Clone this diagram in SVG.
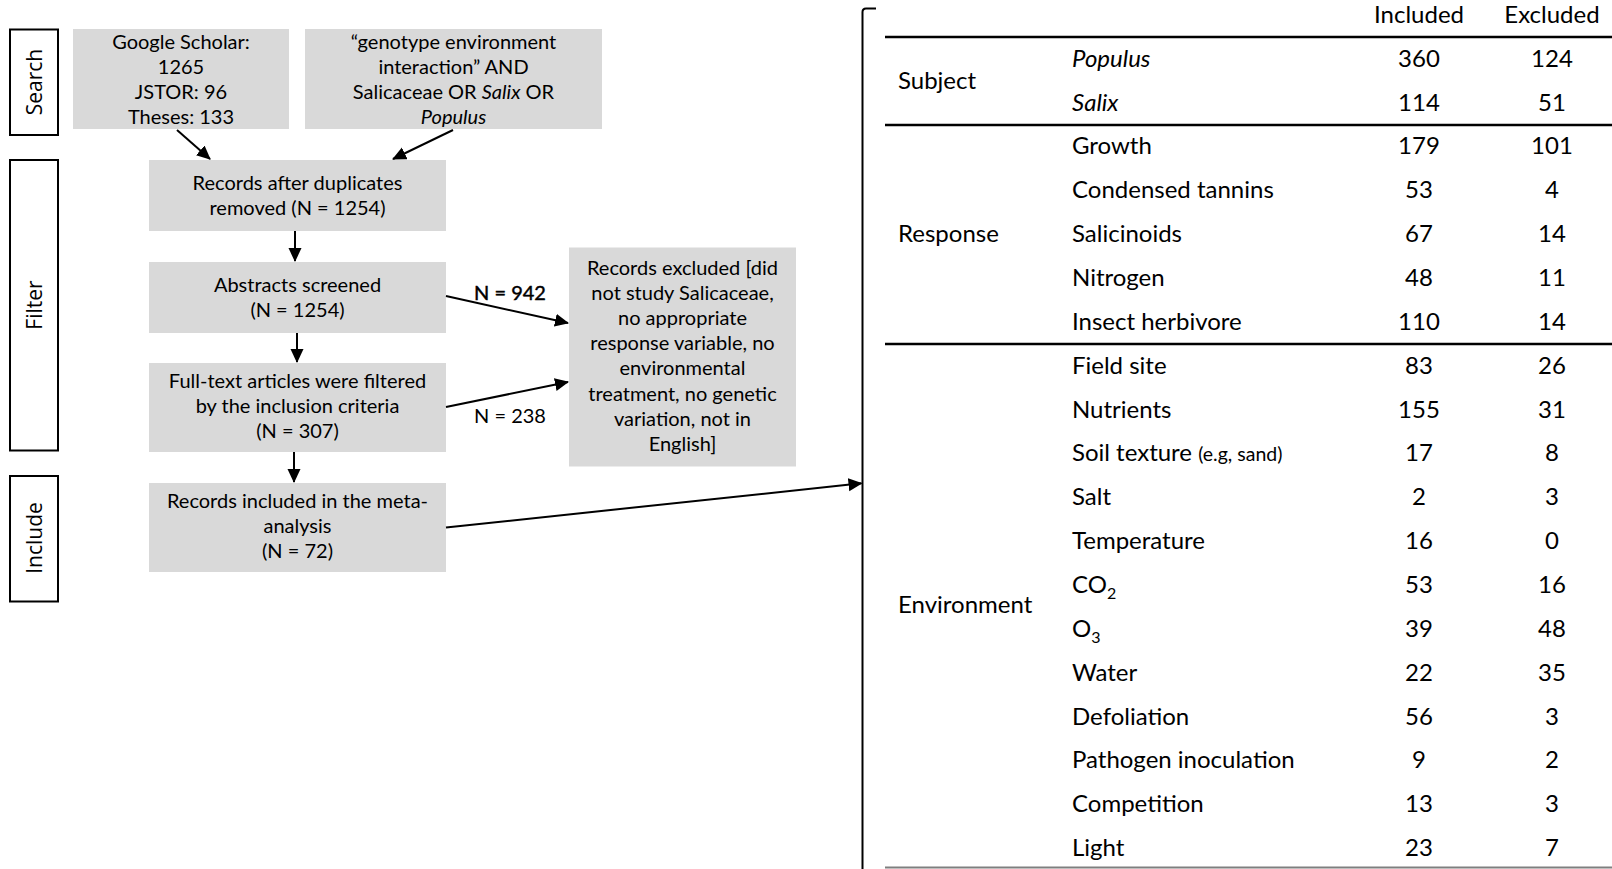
<svg xmlns="http://www.w3.org/2000/svg" width="1612" height="869" viewBox="0 0 1612 869">
<style>
.box{fill:#d9d9d9;stroke:none}
.lbl{fill:#fff;stroke:#000;stroke-width:2}
.t{font-family:Lato,"Liberation Sans",sans-serif;font-size:20px;fill:#000;text-anchor:middle}
.side{font-family:"Open Sans","Liberation Sans",sans-serif;font-size:21px;fill:#000;text-anchor:middle}
.tb{font-family:Lato,"Liberation Sans",sans-serif;font-size:24px;fill:#000}
.c{text-anchor:middle}
.i{font-style:italic}
.con{stroke:#000;stroke-width:2;fill:none}
.rule{stroke:#000;stroke-width:2.5}
</style>
<defs>
<marker id="arr" markerUnits="userSpaceOnUse" markerWidth="14" markerHeight="14" refX="13" refY="6.5" orient="auto">
<path d="M0,0 L14,6.5 L0,13 z" fill="#000"/>
</marker>
</defs>

<g id="stage-search">
<rect class="lbl" x="10" y="29.5" width="48" height="105.5"/>
<text class="side" transform="translate(42,82) rotate(-90)">Search</text>
</g>
<g id="stage-filter">
<rect class="lbl" x="10" y="160" width="48" height="290.5"/>
<text class="side" transform="translate(42,305) rotate(-90)">Filter</text>
</g>
<g id="stage-include">
<rect class="lbl" x="10" y="476" width="48" height="125.5"/>
<text class="side" transform="translate(42,538) rotate(-90)">Include</text>
</g>

<g id="node-sources">
<rect class="box" x="73" y="29" width="216" height="100"/>
<text class="t" x="181" y="49">Google Scholar:</text>
<text class="t" x="181" y="74">1265</text>
<text class="t" x="181" y="99">JSTOR: 96</text>
<text class="t" x="181" y="124">Theses: 133</text>
</g>
<g id="node-query">
<rect class="box" x="305" y="29" width="297" height="100"/>
<text class="t" x="453.5" y="49">“genotype environment</text>
<text class="t" x="453.5" y="74">interaction” AND</text>
<text class="t" x="453.5" y="99">Salicaceae OR <tspan class="i">Salix</tspan> OR</text>
<text class="t i" x="453.5" y="124">Populus</text>
</g>
<g id="node-dedup">
<rect class="box" x="149" y="160" width="297" height="71"/>
<text class="t" x="297.5" y="189.5">Records after duplicates</text>
<text class="t" x="297.5" y="214.5">removed (N = 1254)</text>
</g>
<g id="node-abstracts">
<rect class="box" x="149" y="262" width="297" height="71"/>
<text class="t" x="297.5" y="291.5">Abstracts screened</text>
<text class="t" x="297.5" y="316.5">(N = 1254)</text>
</g>
<g id="node-fulltext">
<rect class="box" x="149" y="363" width="297" height="89"/>
<text class="t" x="297.5" y="388">Full-text articles were filtered</text>
<text class="t" x="297.5" y="413">by the inclusion criteria</text>
<text class="t" x="297.5" y="438">(N = 307)</text>
</g>
<g id="node-included">
<rect class="box" x="149" y="483" width="297" height="89"/>
<text class="t" x="297.5" y="508">Records included in the meta-</text>
<text class="t" x="297.5" y="533">analysis</text>
<text class="t" x="297.5" y="558">(N = 72)</text>
</g>
<g id="node-excluded">
<rect class="box" x="569" y="247.5" width="227" height="219"/>
<text class="t" x="682.5" y="274.5">Records excluded [did</text>
<text class="t" x="682.5" y="299.7">not study Salicaceae,</text>
<text class="t" x="682.5" y="324.9">no appropriate</text>
<text class="t" x="682.5" y="350.1">response variable, no</text>
<text class="t" x="682.5" y="375.3">environmental</text>
<text class="t" x="682.5" y="400.5">treatment, no genetic</text>
<text class="t" x="682.5" y="425.7">variation, not in</text>
<text class="t" x="682.5" y="450.9">English]</text>
</g>

<g id="connectors">
<line class="con" x1="177" y1="130" x2="210" y2="159" marker-end="url(#arr)"/>
<line class="con" x1="453" y1="130" x2="393" y2="159" marker-end="url(#arr)"/>
<line class="con" x1="295" y1="231" x2="295" y2="261" marker-end="url(#arr)"/>
<line class="con" x1="297" y1="333" x2="297" y2="362" marker-end="url(#arr)"/>
<line class="con" x1="294" y1="452" x2="294" y2="482" marker-end="url(#arr)"/>
<line class="con" x1="446" y1="296" x2="568" y2="323" marker-end="url(#arr)"/>
<line class="con" x1="446" y1="407" x2="568" y2="382" marker-end="url(#arr)"/>
<line class="con" x1="446" y1="527.5" x2="861.5" y2="483.3" marker-end="url(#arr)"/>
<text class="t" x="510" y="299.5" style="stroke:#000;stroke-width:0.45">N = 942</text>
<text class="t" x="510" y="422.7">N = 238</text>
</g>

<g id="table">
<path d="M876,8.5 L866,8.5 Q862.5,8.5 862.5,12 L862.5,869" fill="none" stroke="#000" stroke-width="2"/>
<line class="rule" x1="885" y1="37" x2="1612" y2="37"/>
<line class="rule" x1="885" y1="125" x2="1612" y2="125"/>
<line class="rule" x1="885" y1="344" x2="1612" y2="344"/>
<line x1="885" y1="867.5" x2="1612" y2="867.5" stroke="#7f7f7f" stroke-width="2"/>
<g class="tb">
<text class="c" x="1419" y="23.3">Included</text>
<text class="c" x="1552" y="23.3">Excluded</text>
<text x="898" y="89.3">Subject</text>
<text x="898" y="242">Response</text>
<text x="898" y="613.3">Environment</text>

<text class="i" x="1072" y="66.7">Populus</text>
<text class="i" x="1072" y="110.5">Salix</text>
<text x="1072" y="154.4">Growth</text>
<text x="1072" y="198.3">Condensed tannins</text>
<text x="1072" y="242.1">Salicinoids</text>
<text x="1072" y="286">Nitrogen</text>
<text x="1072" y="329.8">Insect herbivore</text>
<text x="1072" y="373.7">Field site</text>
<text x="1072" y="417.5">Nutrients</text>
<text x="1072" y="461.4">Soil texture <tspan style="font-size:19.5px">(e.g, sand)</tspan></text>
<text x="1072" y="505.2">Salt</text>
<text x="1072" y="549.1">Temperature</text>
<text x="1072" y="592.9">CO<tspan dy="6" style="font-size:16px">2</tspan></text>
<text x="1072" y="636.8">O<tspan dy="6" style="font-size:16px">3</tspan></text>
<text x="1072" y="680.6">Water</text>
<text x="1072" y="724.5">Defoliation</text>
<text x="1072" y="768.3">Pathogen inoculation</text>
<text x="1072" y="812.2">Competition</text>
<text x="1072" y="856">Light</text>

<text class="c" x="1419" y="66.7">360</text><text class="c" x="1552" y="66.7">124</text>
<text class="c" x="1419" y="110.5">114</text><text class="c" x="1552" y="110.5">51</text>
<text class="c" x="1419" y="154.4">179</text><text class="c" x="1552" y="154.4">101</text>
<text class="c" x="1419" y="198.3">53</text><text class="c" x="1552" y="198.3">4</text>
<text class="c" x="1419" y="242.1">67</text><text class="c" x="1552" y="242.1">14</text>
<text class="c" x="1419" y="286">48</text><text class="c" x="1552" y="286">11</text>
<text class="c" x="1419" y="329.8">110</text><text class="c" x="1552" y="329.8">14</text>
<text class="c" x="1419" y="373.7">83</text><text class="c" x="1552" y="373.7">26</text>
<text class="c" x="1419" y="417.5">155</text><text class="c" x="1552" y="417.5">31</text>
<text class="c" x="1419" y="461.4">17</text><text class="c" x="1552" y="461.4">8</text>
<text class="c" x="1419" y="505.2">2</text><text class="c" x="1552" y="505.2">3</text>
<text class="c" x="1419" y="549.1">16</text><text class="c" x="1552" y="549.1">0</text>
<text class="c" x="1419" y="592.9">53</text><text class="c" x="1552" y="592.9">16</text>
<text class="c" x="1419" y="636.8">39</text><text class="c" x="1552" y="636.8">48</text>
<text class="c" x="1419" y="680.6">22</text><text class="c" x="1552" y="680.6">35</text>
<text class="c" x="1419" y="724.5">56</text><text class="c" x="1552" y="724.5">3</text>
<text class="c" x="1419" y="768.3">9</text><text class="c" x="1552" y="768.3">2</text>
<text class="c" x="1419" y="812.2">13</text><text class="c" x="1552" y="812.2">3</text>
<text class="c" x="1419" y="856">23</text><text class="c" x="1552" y="856">7</text>
</g>
</g>
</svg>
